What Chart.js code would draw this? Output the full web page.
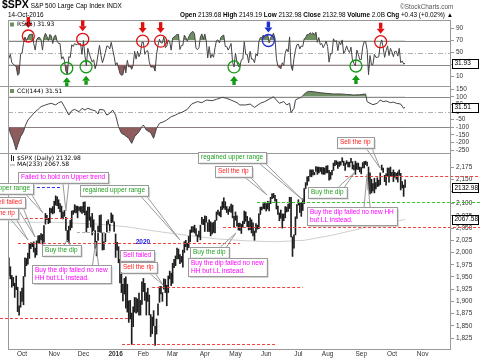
<!DOCTYPE html>
<html>
<head>
<meta charset="utf-8">
<script src="https://cdn.jsdelivr.net/npm/chart.js@4.4.1/dist/chart.umd.min.js"></script>
<style>
  html, body { margin: 0; padding: 0; background: #fff; }
  #wrap { position: relative; width: 480px; height: 361px; overflow: hidden; font-family: "Liberation Sans", Arial, sans-serif; }
  #c { position: absolute; left: 0; top: 0; }
  .hdr { position: absolute; white-space: nowrap; color: #000; font-size: 6.4px; line-height: 8px; }
  .hdr b { font-weight: bold; }
</style>
</head>
<body>
<div id="wrap">
  <canvas id="c" width="480" height="361"></canvas>
  <div class="hdr" style="left:2px;top:0px;"><b style="font-size:10.5px">$SPX</b> S&amp;P 500 Large Cap Index INDX</div>
  <div class="hdr" style="left:8px;top:11px;">14-Oct-2016</div>
  <div class="hdr" style="left:180px;top:11px;"><b>Open</b> 2139.68 <b>High</b> 2149.19 <b>Low</b> 2132.98 <b>Close</b> 2132.98 <b>Volume</b> 2.0B <b>Chg</b> +0.43 (+0.02%) &#9650;</div>
  <div class="hdr" style="left:400px;top:3px;color:#555;">&#169;StockCharts.com</div>
</div>
<script>
// trading-day index: 0 = 8 Sep 2015, first bar = 18 Sep 2015, last bar = 14 Oct 2016
const firstDay = 8;
const monthStarts = [17, 39, 59, 81, 100, 120, 142, 163, 184, 206, 226, 249, 270, 291];
const monthLabels = ['Oct', 'Nov', 'Dec', '2016', 'Feb', 'Mar', 'Apr', 'May', 'Jun', 'Jul', 'Aug', 'Sep', 'Oct', 'Nov'];

const highs = [
  1989, 1971, 1953, 1949, 1937, 1952, 1929, 1891, 1920, 1927,
  1951, 1989, 1988, 1999, 2017, 2020, 2019, 2022, 2009, 2024,
  2034, 2035, 2039, 2037, 2055, 2080, 2076, 2070, 2091, 2090,
  2094, 2105, 2116, 2114, 2108, 2100, 2095, 2083, 2086, 2072,
  2045, 2054, 2066, 2085, 2086, 2098, 2095, 2095, 2093, 2094,
  2094, 2103, 2104, 2085, 2093, 2093, 2073, 2080, 2067, 2045,
  2023, 2054, 2076, 2077, 2041, 2022, 2039, 2064, 2067, 2058,
  2081, 2077, 2063, 2038, 2021, 2012, 1986, 1960, 1935, 1947,
  1950, 1935, 1901, 1902, 1876, 1889, 1908, 1907, 1905, 1917,
  1902, 1940, 1947, 1937, 1918, 1927, 1913, 1873, 1868, 1881,
  1849, 1864, 1895, 1930, 1931, 1918, 1946, 1945, 1933, 1952,
  1962, 1958, 1978, 1986, 1993, 2009, 2007, 1996, 1992, 2005,
  2022, 2025, 2019, 2033, 2046, 2053, 2053, 2056, 2049, 2036,
  2044, 2056, 2072, 2068, 2075, 2074, 2061, 2067, 2063, 2060,
  2062, 2066, 2083, 2087, 2083, 2094, 2104, 2112, 2104, 2094,
  2089, 2094, 2099, 2097, 2074, 2083, 2075, 2060, 2060, 2058,
  2064, 2085, 2083, 2074, 2064, 2071, 2067, 2061, 2044, 2059,
  2056, 2079, 2093, 2093, 2100, 2103, 2100, 2105, 2104, 2113,
  2120, 2121, 2117, 2109, 2095, 2081, 2087, 2079, 2079, 2094,
  2093, 2099, 2113, 2113, 2032, 2036, 2073, 2098, 2108, 2101,
  2102, 2110, 2131, 2143, 2155, 2156, 2169, 2169, 2169, 2164,
  2176, 2175, 2175, 2174, 2174, 2174, 2173, 2177, 2178, 2168,
  2164, 2168, 2183, 2188, 2188, 2185, 2186, 2186, 2194, 2187,
  2183, 2188, 2185, 2185, 2193, 2186, 2179, 2187, 2183, 2183,
  2175, 2174, 2184, 2186, 2187, 2185, 2175, 2163, 2150, 2141,
  2152, 2143, 2153, 2148, 2163, 2179, 2173, 2158, 2161, 2173,
  2173, 2175, 2164, 2169, 2164, 2162, 2165, 2169, 2162, 2145,
  2138, 2149
];
const lows = [
  1953, 1946, 1929, 1932, 1908, 1924, 1879, 1872, 1888, 1900,
  1893, 1951, 1973, 1976, 1988, 2008, 2012, 2001, 1990, 1995,
  2020, 2019, 2026, 2017, 2021, 2058, 2067, 2059, 2061, 2081,
  2079, 2081, 2097, 2096, 2090, 2083, 2071, 2069, 2074, 2045,
  2022, 2020, 2046, 2051, 2078, 2082, 2081, 2071, 2086, 2083,
  2080, 2082, 2077, 2042, 2051, 2066, 2052, 2036, 2045, 2009,
  1993, 2025, 2042, 2041, 2005, 2006, 2022, 2042, 2058, 2044,
  2061, 2062, 2043, 1990, 2005, 1979, 1938, 1918, 1901, 1915,
  1886, 1878, 1857, 1864, 1812, 1848, 1878, 1876, 1878, 1872,
  1872, 1894, 1920, 1902, 1872, 1900, 1872, 1828, 1834, 1850,
  1810, 1833, 1872, 1898, 1915, 1900, 1925, 1918, 1891, 1918,
  1946, 1932, 1937, 1969, 1973, 1987, 1987, 1977, 1980, 1970,
  2000, 2012, 2005, 2010, 2022, 2041, 2042, 2040, 2035, 2022,
  2032, 2026, 2058, 2057, 2043, 2062, 2043, 2043, 2034, 2038,
  2041, 2040, 2066, 2078, 2075, 2073, 2088, 2091, 2088, 2082,
  2078, 2084, 2082, 2071, 2053, 2066, 2054, 2046, 2045, 2039,
  2052, 2059, 2064, 2053, 2046, 2047, 2040, 2034, 2025, 2041,
  2048, 2049, 2078, 2087, 2090, 2089, 2085, 2089, 2085, 2100,
  2110, 2112, 2105, 2089, 2078, 2065, 2070, 2050, 2065, 2071,
  2083, 2084, 2090, 2032, 1992, 2009, 2036, 2070, 2097, 2082,
  2074, 2086, 2100, 2131, 2138, 2146, 2156, 2155, 2159, 2159,
  2166, 2160, 2163, 2166, 2161, 2160, 2160, 2163, 2163, 2148,
  2150, 2159, 2168, 2178, 2180, 2172, 2176, 2179, 2185, 2178,
  2168, 2181, 2175, 2175, 2184, 2171, 2169, 2160, 2170, 2170,
  2165, 2161, 2173, 2173, 2180, 2177, 2128, 2120, 2122, 2126,
  2122, 2130, 2135, 2136, 2139, 2169, 2164, 2145, 2138, 2157,
  2144, 2157, 2155, 2145, 2154, 2150, 2144, 2158, 2128, 2132,
  2115, 2133
];
const rsi = [
  40, 47, 33, 31, 28, 27, 12, 15, 47, 49,
  65, 76, 70, 75, 80, 80, 81, 65, 54, 71,
  75, 75, 71, 54, 75, 82, 77, 70, 80, 78,
  65, 77, 79, 69, 65, 65, 39, 43, 37, 19,
  14, 43, 42, 63, 60, 65, 63, 64, 64, 65,
  47, 70, 45, 28, 57, 48, 41, 34, 38, 23,
  31, 47, 62, 45, 33, 41, 50, 61, 60, 56,
  67, 55, 43, 29, 33, 24, 15, 12, 13, 27,
  16, 37, 26, 27, 22, 29, 52, 39, 52, 43,
  49, 67, 67, 47, 52, 53, 35, 26, 26, 26,
  19, 47, 62, 72, 66, 66, 76, 58, 61, 71,
  68, 54, 74, 76, 78, 80, 80, 55, 62, 62,
  79, 75, 69, 76, 81, 84, 85, 81, 57, 55,
  58, 76, 81, 72, 81, 69, 41, 60, 41, 47,
  42, 58, 70, 71, 66, 75, 78, 79, 60, 60,
  54, 59, 65, 34, 26, 49, 34, 27, 26, 38,
  39, 68, 47, 47, 33, 52, 39, 39, 33, 48,
  44, 68, 75, 75, 79, 75, 77, 81, 66, 75,
  78, 82, 74, 40, 27, 25, 23, 33, 28, 49,
  56, 51, 76, 28, 20, 40, 54, 63, 64, 56,
  61, 60, 73, 75, 80, 80, 83, 81, 83, 79,
  84, 67, 75, 63, 65, 58, 63, 69, 60, 34,
  48, 48, 73, 68, 70, 53, 68, 63, 71, 48,
  53, 61, 54, 50, 59, 37, 32, 28, 54, 47,
  38, 38, 59, 68, 68, 55, 13, 45, 30, 30,
  47, 42, 42, 43, 63, 71, 58, 42, 53, 61,
  45, 57, 51, 43, 52, 52, 44, 57, 33, 36,
  31, 31.93
];
const cciDays = [
  8, 9, 11, 13, 14, 16, 18, 19, 21, 24, 26, 28, 30, 33, 35, 37, 40, 42, 44, 46,
  49, 51, 53, 56, 58, 60, 62, 65, 67, 69, 70, 73, 75, 77, 79, 81, 83, 85, 87, 90,
  92, 94, 97, 99, 100, 102, 105, 107, 108, 109, 111, 114, 116, 119, 122, 124, 126, 130, 133, 137,
  140, 143, 147, 150, 154, 157, 160, 164, 166, 170, 173, 176, 180, 183, 187, 189, 191, 193, 196, 198,
  200, 201, 203, 204, 206, 208, 211, 213, 216, 221, 225, 230, 235, 239, 244, 248, 252, 253, 255, 257,
  260, 262, 264, 266, 269, 271, 273, 276, 278, 279
];
const cciValues = [
  -100, -139, -183, -248, -216, -161, -129, -96, -52, -20, 2, 17, 35, 46, 52, 57, 46, 61, 68, 35,
  -20, 9, 17, 2, 24, 13, 24, 13, 9, -13, 17, 13, -20, -9, 13, -20, -96, -139, -150, -172,
  -205, -161, -129, -96, -85, -118, -135, -172, -139, -107, -74, -63, -52, -31, -20, -9, -4, 17, 52, 68,
  61, 78, 74, 83, 96, 89, 78, 61, 46, 46, 52, 30, 57, 68, 89, 100, 78, 57, 68, 46,
  57, -4, 24, 78, 89, 96, 126, 135, 133, 126, 122, 118, 118, 115, 111, 113, 118, 68, 57, 48,
  57, 78, 68, 72, 61, 65, 57, 52, 24, 31.51
];
const maDays = [8, 40, 70, 90, 110, 130, 150, 170, 190, 210, 230, 250, 265, 279];
const maValues = [2062, 2062, 2058, 2052, 2043, 2035, 2028, 2024, 2022, 2025, 2036, 2050, 2060, 2067.58];

const rsiTicks = [10, 30, 50, 70, 90];
const cciTicks = [-250, -200, -150, -100, -50, 0, 50, 100, 150];
const priceTicks = [1825, 1850, 1875, 1900, 1925, 1950, 1975, 2000, 2025, 2050, 2075, 2100, 2125, 2150, 2175];
const lastClose = 2132.98;
const lastMa = 2067.58;
const lastRsi = 31.93;
const lastCci = 31.51;

// RSI signal markers (day, rsi value)
const rsiMarkers = [
  { day: 21.3, value: 77.5, color: '#e01010', dir: 'down' },
  { day: 58.5, value: 72, color: '#e01010', dir: 'down' },
  { day: 99.5, value: 69, color: '#e01010', dir: 'down' },
  { day: 111.8, value: 69, color: '#e01010', dir: 'down' },
  { day: 47.6, value: 23.7, color: '#139a13', dir: 'up' },
  { day: 60.8, value: 26.3, color: '#139a13', dir: 'up' },
  { day: 162, value: 26, color: '#139a13', dir: 'up' },
  { day: 185.5, value: 70, color: '#1f2fd0', dir: 'down' },
  { day: 245.4, value: 27.5, color: '#139a13', dir: 'up' },
  { day: 262.3, value: 68, color: '#e01010', dir: 'down' }
];

// horizontal price levels drawn on the chart
const levels = [
  { price: 2071, from: 19, to: 51.2, color: '#f04040' },
  { price: 2134.7, from: 27.2, to: 44.3, color: '#3030ff' },
  { price: 2020, from: 14.2, to: 166, color: '#f04040' },
  { price: 2042, from: 54.6, to: 77.2, color: '#b0b0b0' },
  { price: 1866.6, from: 0, to: 89.5, color: '#f04040' },
  { price: 1928.8, from: 106, to: 209, color: '#f04040' },
  { price: 1812.7, from: 85.4, to: 190, color: '#f04040' },
  { price: 2051.6, from: 154.5, to: null, color: '#f04040' },
  { price: 2103.4, from: 177.7, to: null, color: '#33cc33' },
  { price: 2157, from: 238, to: null, color: '#f04040' }
];

const RED = '#ff2020', GREEN = '#22a022', PINK = '#ff00ff';
const notes = [
  { lines: ['Failed to hold on Upper trend'], color: PINK, day: 14.2, price: 2164.8, tip: [47, 2085] },
  { lines: ['regained upper range'], color: GREEN, day: 24.5, price: 2142.3, right: true, tip: [31.3, 2081] },
  { lines: ['Sell failed'], color: RED, day: 19, price: 2113.6, right: true, tip: [25.9, 2031.7] },
  { lines: ['Sell the rip'], color: RED, day: 14.2, price: 2091, right: true, tip: [21.1, 2025.6] },
  { lines: ['regained upper range'], color: GREEN, day: 56.6, price: 2138.2, tip: [125, 2025.6] },
  { lines: ['Buy the dip'], color: GREEN, day: 30.7, price: 2015.4, tip: [47.8, 2025.6] },
  { lines: ['Buy the dip failed no new', 'HH but LL instead.'], color: PINK, day: 23.8, price: 1974.4, tip: [67.3, 2021.5] },
  { lines: ['Sell failed'], color: PINK, day: 84, price: 2005 },
  { lines: ['Sell the rip'], color: RED, day: 84, price: 1980.6, tip: [113.5, 1933.5] },
  { lines: ['Buy the dip'], color: GREEN, day: 131.9, price: 2011.3, tip: [163.3, 2040] },
  { lines: ['Buy the dip failed no new', 'HH but LL instead.'], color: PINK, day: 130.5, price: 1988.7 },
  { lines: ['regained upper range'], color: GREEN, day: 137.4, price: 2205.7, tip: [209.2, 2107] },
  { lines: ['Sell the rip'], color: RED, day: 149, price: 2177, tip: [184.6, 2117.7] },
  { lines: ['Buy the dip'], color: GREEN, day: 212.6, price: 2134, tip: [244.7, 2164.8] },
  { lines: ['Buy the dip failed no new HH', 'but LL instead.'], color: PINK, day: 211.9, price: 2093, tip: [253, 2160.7] },
  { lines: ['Sell the rip'], color: RED, day: 232.4, price: 2236.4, tip: [261.8, 2173] }
];

const priceBars = highs.map((h, k) => ({ x: firstDay + k, y: [lows[k], h] }));
const rsiPoints = rsi.map((v, k) => ({ x: firstDay + k, y: v }));
const cciPoints = cciDays.map((d, k) => ({ x: d, y: cciValues[k] }));
const maPoints = maDays.map((d, k) => ({ x: d, y: maValues[k] }));

const NOTE_FONT = '6.5px "Liberation Sans", Arial, sans-serif';
const LEG_FONT = '6px "DejaVu Sans", sans-serif';

function drawArrow(ctx, x, y0, y1, color) {
  // arrow from y0 (tail) to y1 (tip)
  const dir = y1 > y0 ? 1 : -1;
  const head = 5 * dir;
  ctx.fillStyle = color;
  ctx.fillRect(x - 1.7, Math.min(y0, y1 - head), 3.4, Math.abs(y1 - head - y0));
  ctx.beginPath();
  ctx.moveTo(x - 4, y1 - head);
  ctx.lineTo(x + 4, y1 - head);
  ctx.lineTo(x, y1);
  ctx.closePath();
  ctx.fill();
}

const panelPlugin = {
  id: 'panels',
  beforeDatasetsDraw(chart) {
    const { ctx, chartArea: a, scales: s } = chart;
    ctx.save();
    ctx.lineWidth = 1;
    const hline = (y, color, dash) => {
      ctx.strokeStyle = color;
      ctx.setLineDash(dash);
      ctx.beginPath();
      ctx.moveTo(a.left, Math.round(y) + 0.5);
      ctx.lineTo(a.right, Math.round(y) + 0.5);
      ctx.stroke();
    };
    hline(s.rsiY.getPixelForValue(70), '#8a8a8a', []);
    hline(s.rsiY.getPixelForValue(30), '#8a8a8a', []);
    hline(s.rsiY.getPixelForValue(50), '#b0b0b0', [5, 2, 1, 2]);
    hline(s.cciY.getPixelForValue(100), '#8a8a8a', []);
    hline(s.cciY.getPixelForValue(-100), '#8a8a8a', []);
    hline(s.cciY.getPixelForValue(0), '#b0b0b0', [5, 2, 1, 2]);
    ctx.restore();
  },
  afterDraw(chart) {
    const { ctx, chartArea: a, scales: s } = chart;
    const X = d => s.x.getPixelForValue(d);
    const P = p => s.y.getPixelForValue(p);
    ctx.save();

    // price levels
    ctx.lineWidth = 1;
    ctx.setLineDash([3, 2]);
    levels.forEach(l => {
      const y = Math.round(P(l.price)) + 0.5;
      ctx.strokeStyle = l.color;
      ctx.beginPath();
      ctx.moveTo(Math.max(0, X(l.from)), y);
      ctx.lineTo(l.to === null ? 480 : X(l.to), y);
      ctx.stroke();
    });
    ctx.setLineDash([]);

    // frame
    ctx.strokeStyle = '#999';
    ctx.strokeRect(a.left + 0.5, a.top + 0.5, a.right - a.left - 1, a.bottom - a.top);
    [s.cciY.top, s.y.top].forEach(y => {
      ctx.beginPath();
      ctx.moveTo(0, Math.round(y) + 0.5);
      ctx.lineTo(a.right, Math.round(y) + 0.5);
      ctx.stroke();
    });

    // RSI markers
    rsiMarkers.forEach(m => {
      const cx = X(m.day), cy = s.rsiY.getPixelForValue(m.value);
      ctx.strokeStyle = m.color;
      ctx.lineWidth = 1.3;
      ctx.beginPath();
      ctx.arc(cx, cy, 6, 0, Math.PI * 2);
      ctx.stroke();
      if (m.dir === 'down') drawArrow(ctx, cx, cy - 19, cy - 8, m.color);
      else drawArrow(ctx, cx, cy + 18, cy + 9, m.color);
    });

    // callout notes
    ctx.font = NOTE_FONT;
    ctx.textBaseline = 'middle';
    notes.forEach(n => {
      const w = Math.max(...n.lines.map(t => ctx.measureText(t).width)) + 6;
      const h = n.lines.length * 7.5 + 3;
      const left = n.right ? X(n.day) - w : X(n.day);
      const top = P(n.price);
      if (n.tip) {
        const tx = X(n.tip[0]), ty = P(n.tip[1]);
        let bx, by;
        if (ty > top + h) { by = top + h; bx = Math.min(Math.max(tx, left + 5), left + w - 5); }
        else if (ty < top) { by = top; bx = Math.min(Math.max(tx, left + 5), left + w - 5); }
        else { by = top + h / 2; bx = tx > left + w ? left + w : left; }
        ctx.strokeStyle = '#9a9a9a';
        ctx.lineWidth = 1;
        ctx.beginPath();
        if (by === top + h / 2) {
          ctx.moveTo(bx, by - 3); ctx.lineTo(tx, ty); ctx.lineTo(bx, by + 3);
        } else {
          ctx.moveTo(bx - 3, by); ctx.lineTo(tx, ty); ctx.lineTo(bx + 3, by);
        }
        ctx.stroke();
      }
      ctx.fillStyle = '#d0d0d0';
      ctx.fillRect(left + 2, top + 2, w, h);
      ctx.fillStyle = '#fff';
      ctx.fillRect(left, top, w, h);
      ctx.strokeStyle = '#9a9a9a';
      ctx.lineWidth = 1;
      ctx.strokeRect(Math.round(left) + 0.5, Math.round(top) + 0.5, Math.round(w), Math.round(h));
      ctx.fillStyle = n.color;
      ctx.textAlign = 'left';
      n.lines.forEach((t, k) => ctx.fillText(t, left + 3, top + 5.5 + k * 7.5));
    });

    // blue level label
    ctx.font = 'bold 6.5px "Liberation Sans", Arial, sans-serif';
    ctx.fillStyle = '#2020ee';
    ctx.textAlign = 'center';
    ctx.fillText('2020', X(99.7), P(2020) - 0.5);

    // value boxes on the right axis
    const valueBox = (y, text) => {
      ctx.fillStyle = '#fff';
      ctx.fillRect(a.right + 1, y - 4.5, 27, 9);
      ctx.strokeStyle = '#000';
      ctx.lineWidth = 1;
      ctx.strokeRect(a.right + 1.5, Math.round(y - 4.5) + 0.5, 26, 9);
      ctx.fillStyle = '#000';
      ctx.font = '6.5px "Liberation Sans", Arial, sans-serif';
      ctx.textAlign = 'left';
      ctx.fillText(text, a.right + 3.5, Math.round(y) + 0.5);
    };
    valueBox(s.rsiY.getPixelForValue(lastRsi), lastRsi.toFixed(2));
    valueBox(s.cciY.getPixelForValue(lastCci), lastCci.toFixed(2));
    valueBox(P(lastClose), lastClose.toFixed(2));
    valueBox(P(lastMa), lastMa.toFixed(2));

    // panel legends
    ctx.font = LEG_FONT;
    ctx.textAlign = 'left';
    const legend = (y, text, icon) => {
      if (icon === 'bar') { ctx.fillStyle = '#222'; ctx.fillRect(a.left + 3, y - 3, 1, 6); ctx.fillRect(a.left + 5, y - 2, 1, 5); }
      else if (icon === 'line') { ctx.fillStyle = '#999'; ctx.fillRect(a.left + 2, y, 5, 1); }
      else { ctx.fillStyle = '#6f8f63'; ctx.fillRect(a.left + 2, y - 2, 4, 4); }
      ctx.fillStyle = '#000';
      ctx.fillText(text, a.left + 9, y);
    };
    legend(a.top + 4.5, 'RSI(5) ' + lastRsi.toFixed(2), 'box');
    legend(s.cciY.top + 5, 'CCI(144) ' + lastCci.toFixed(2), 'box');
    legend(s.y.top + 5, '$SPX (Daily) ' + lastClose.toFixed(2), 'bar');
    legend(s.y.top + 11.5, 'MA(233) ' + lastMa.toFixed(2), 'line');
    ctx.restore();
  }
};

const yCommon = {
  type: 'linear',
  position: 'right',
  stack: 'panels',
  grid: { drawOnChartArea: false, drawTicks: true, tickLength: 3, color: '#999' },
  border: { display: false },
  ticks: { padding: 2, color: '#333', font: { size: 6.5, family: '"Liberation Sans", Arial, sans-serif' }, autoSkip: false },
  afterFit: sc => { sc.width = 29; }
};

new Chart(document.getElementById('c'), {
  type: 'bar',
  data: {
    datasets: [
      { type: 'line', data: rsiPoints, yAxisID: 'rsiY', borderColor: '#454545', borderWidth: 1, pointRadius: 0,
        fill: { target: { value: 70 }, above: '#6f8f63', below: 'rgba(0,0,0,0)' } },
      { type: 'line', data: rsiPoints, yAxisID: 'rsiY', borderColor: 'rgba(0,0,0,0)', borderWidth: 1, pointRadius: 0,
        fill: { target: { value: 30 }, above: 'rgba(0,0,0,0)', below: '#8e5c5c' } },
      { type: 'line', data: cciPoints, yAxisID: 'cciY', borderColor: '#454545', borderWidth: 1, pointRadius: 0,
        fill: { target: { value: 100 }, above: '#6f8f63', below: 'rgba(0,0,0,0)' } },
      { type: 'line', data: cciPoints, yAxisID: 'cciY', borderColor: 'rgba(0,0,0,0)', borderWidth: 1, pointRadius: 0,
        fill: { target: { value: -100 }, above: 'rgba(0,0,0,0)', below: '#8e5c5c' } },
      { type: 'line', data: maPoints, yAxisID: 'y', borderColor: '#cfcfcf', borderWidth: 1, pointRadius: 0, order: 2 },
      { type: 'bar', data: priceBars, yAxisID: 'y', backgroundColor: '#1e1e1e', barThickness: 1, grouped: false, order: 1 }
    ]
  },
  options: {
    responsive: false,
    animation: false,
    devicePixelRatio: 1,
    layout: { padding: { left: 8, top: 20, right: 0, bottom: 0 } },
    plugins: { legend: { display: false }, tooltip: { enabled: false } },
    scales: {
      x: {
        type: 'linear', position: 'bottom', min: 7.4, max: 310.4, offset: false,
        grid: { display: false, drawTicks: false, offset: false }, border: { display: false },
        afterBuildTicks: sc => { sc.ticks = monthStarts.map(v => ({ value: v })); },
        afterFit: sc => { sc.height = 12; },
        ticks: {
          autoSkip: false, maxRotation: 0, padding: 1, color: '#333',
          font: ctx => ({ size: 6.5, family: '"Liberation Sans", Arial, sans-serif', weight: ctx.index === 3 ? 'bold' : 'normal' }),
          callback: (v, i) => monthLabels[i]
        }
      },
      rsiY: Object.assign({}, yCommon, { stackWeight: 66, min: -5.8, max: 104.2,
        afterBuildTicks: sc => { sc.ticks = rsiTicks.map(v => ({ value: v })); } }),
      cciY: Object.assign({}, yCommon, { stackWeight: 67, min: -268, max: 170,
        afterBuildTicks: sc => { sc.ticks = cciTicks.map(v => ({ value: v })); } }),
      y: Object.assign({}, yCommon, { stackWeight: 196, min: 1802.5, max: 2203.7,
        afterBuildTicks: sc => { sc.ticks = priceTicks.map(v => ({ value: v })); } })
    }
  },
  plugins: [panelPlugin]
});
</script>
</body>
</html>
